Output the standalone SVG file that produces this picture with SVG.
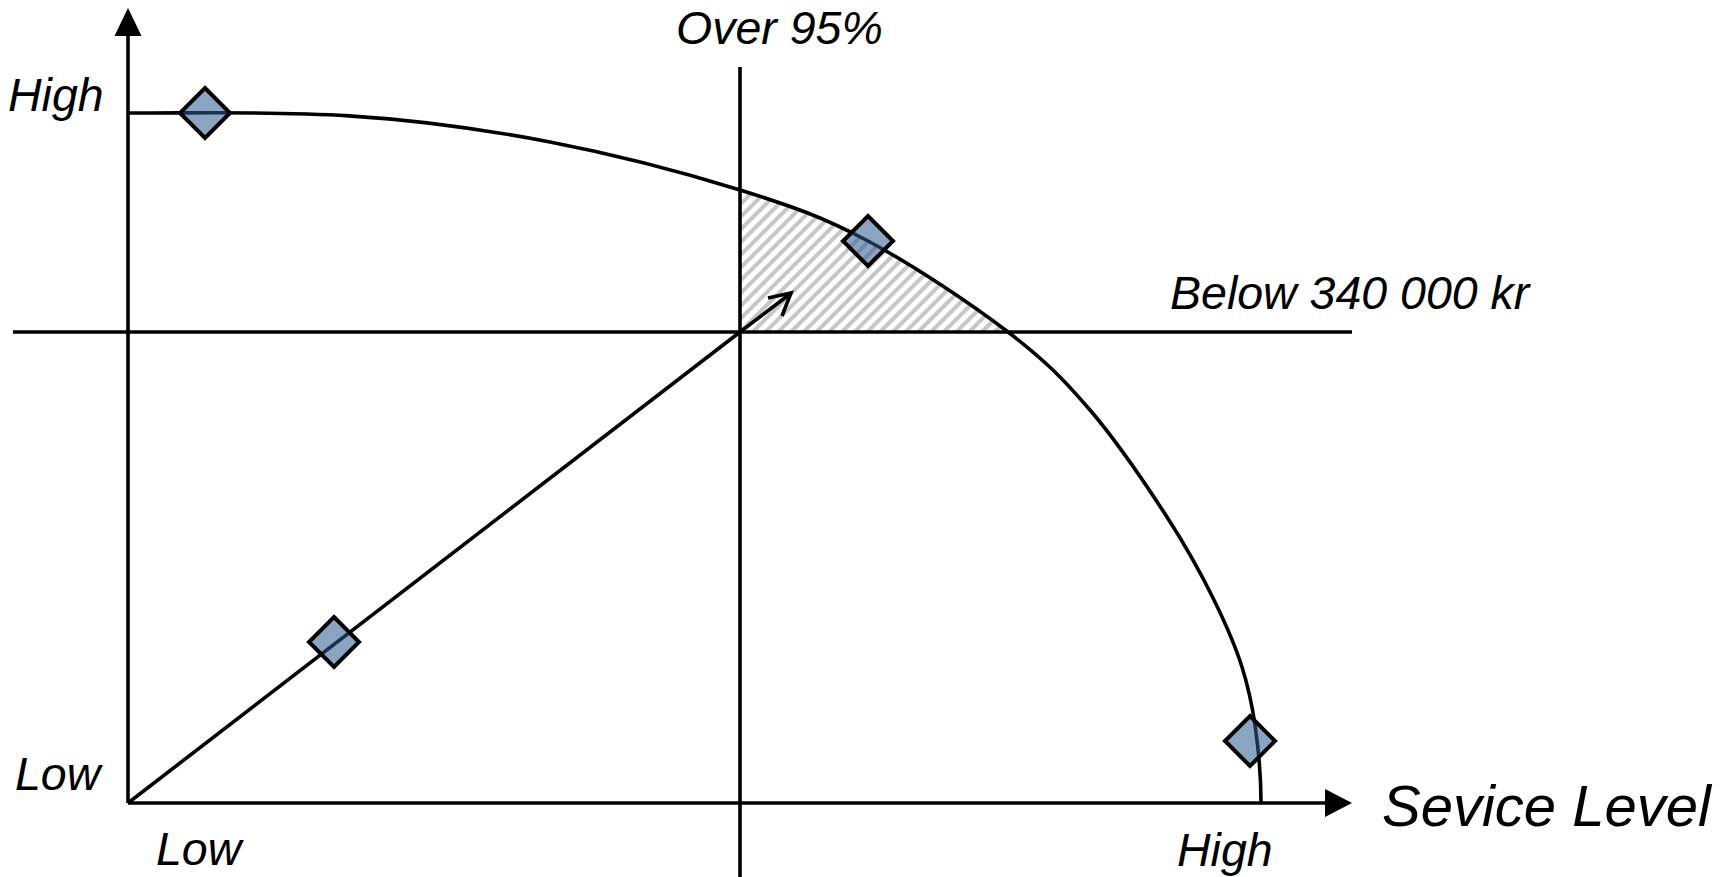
<svg xmlns="http://www.w3.org/2000/svg" width="1730" height="877" viewBox="0 0 1730 877">
<style>
.ln{fill:none;stroke:#000;stroke-width:3.6}
.ah{fill:#000;stroke:none}
.dm{fill:#2a5a90;fill-opacity:0.55;stroke:#000;stroke-width:4;stroke-linejoin:miter}
.t{font-family:"Liberation Sans",Arial,sans-serif;font-style:italic;font-size:46.5px;fill:#000}
.tl{font-family:"Liberation Sans",Arial,sans-serif;font-style:italic;font-size:58px;fill:#000}
</style>
<defs>
<pattern id="hatch" patternUnits="userSpaceOnUse" width="9" height="9" patternTransform="rotate(-45)">
<rect x="0" y="0" width="9" height="4" fill="#c6c6c6"/>
</pattern>
<clipPath id="under">
<path d="M128,113 C268,113 370,107.4 550,142 C615,154.5 687,173.5 740,190 C793,206.5 823.3,217.3 868,241 C912.7,264.7 971,303.8 1008,332 C1045,360.2 1063.5,379.2 1090,410 C1116.5,440.8 1146.5,485.3 1167,517 C1187.5,548.7 1201.8,575 1214,600 C1226.2,625 1235.5,646.2 1242,667 C1248.5,687.8 1251.7,702.3 1255,725 C1258.3,747.7 1261,777 1261,803 L128,803 Z"/>
</clipPath>
<path id="dia" d="M0,-25 L25,0 L0,25 L-25,0 Z"/>
</defs>
<g id="hatched-area">
<rect x="740" y="150" width="320" height="182" fill="url(#hatch)" clip-path="url(#under)"/>
</g>
<g id="connectors">
<line class="ln" x1="128" y1="803" x2="128" y2="34"/>
<polygon class="ah" points="128,8 114.5,36 141.5,36"/>
<line class="ln" x1="128" y1="803" x2="1327" y2="803"/>
<polygon class="ah" points="1352,803 1325,789 1325,817"/>
<line class="ln" x1="13" y1="332" x2="1352" y2="332"/>
<line class="ln" x1="740" y1="67" x2="740" y2="877"/>
<line class="ln" x1="128" y1="803" x2="740" y2="332"/>
<line class="ln" x1="740" y1="332" x2="790" y2="294" stroke-width="3.2"/>
<polyline class="ln" stroke-width="3.2" points="768,298 791,293 782,316"/>
<path class="ln" d="M128,113 C268,113 370,107.4 550,142 C615,154.5 687,173.5 740,190 C793,206.5 823.3,217.3 868,241 C912.7,264.7 971,303.8 1008,332 C1045,360.2 1063.5,379.2 1090,410 C1116.5,440.8 1146.5,485.3 1167,517 C1187.5,548.7 1201.8,575 1214,600 C1226.2,625 1235.5,646.2 1242,667 C1248.5,687.8 1251.7,702.3 1255,725 C1258.3,747.7 1261,777 1261,803"/>
</g>
<g id="node-top"><use href="#dia" class="dm" x="205" y="113"/></g>
<g id="node-mid"><use href="#dia" class="dm" x="868" y="241"/></g>
<g id="node-diag"><use href="#dia" class="dm" x="334" y="642"/></g>
<g id="node-right"><use href="#dia" class="dm" x="1250" y="741"/></g>
<g id="labels">
<text class="t" x="8" y="111">High</text>
<text class="t" x="15" y="790">Low</text>
<text class="t" x="156" y="865">Low</text>
<text class="t" x="1177" y="866">High</text>
<text class="t" x="676" y="44">Over 95%</text>
<text class="t" x="1170" y="309">Below 340 000 kr</text>
<text class="tl" x="1382" y="826">Sevice Level</text>
</g>
</svg>
